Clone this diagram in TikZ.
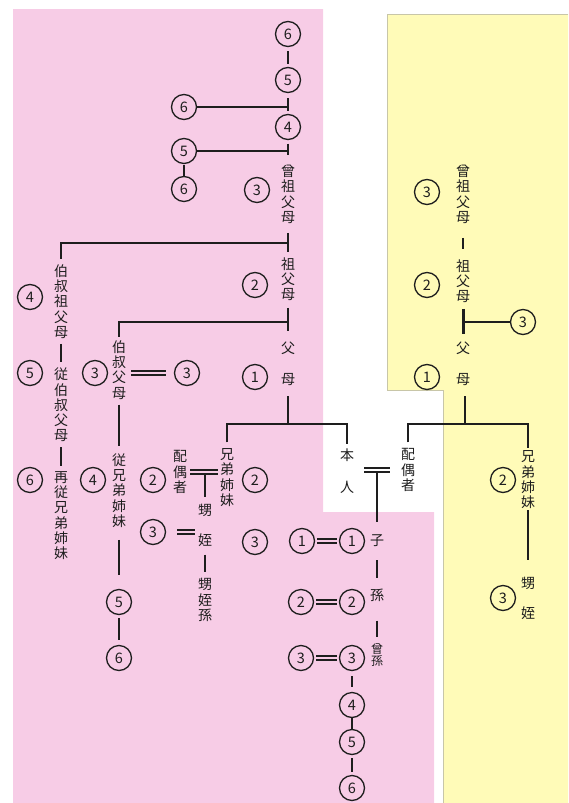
\documentclass[tikz,border=0pt]{standalone}
\usepackage{fontspec}
\setmainfont{Noto Sans CJK JP}
\definecolor{pinkbg}{HTML}{F7CCE6}
\definecolor{yellowbg}{HTML}{FFFBB8}
\definecolor{ybord}{HTML}{C8C6A8}
\definecolor{ink}{HTML}{1E1E1E}
\tikzset{
  num/.style={circle, draw=ink, line width=1.3pt, minimum size=25pt, inner sep=0pt, text=ink, font=\fontsize{14.5}{14.5}\selectfont},
  vt/.style={align=center, inner sep=0pt, text=ink, font=\fontsize{14}{15.3}\selectfont},
  vts/.style={align=center, inner sep=0pt, text=ink, font=\fontsize{12}{12.5}\selectfont},
  ln/.style={draw=ink, line width=2.3pt},
  lnt/.style={draw=ink, line width=3pt},
  dbl/.style={draw=ink, double=pinkbg, line width=1.8pt, double distance=2.2pt},
  dblw/.style={draw=ink, double=white, line width=1.8pt, double distance=2.2pt}
}
\begin{document}
\begin{tikzpicture}[x=1pt,y=-1pt]
\useasboundingbox (0,0) rectangle (568,803);
% backgrounds
\fill[pinkbg] (13,9) -- (323,9) -- (323,512) -- (434,512) -- (434,803) -- (13,803) -- cycle;
\fill[yellowbg] (387,14) -- (568,14) -- (568,803) -- (443,803) -- (443,390) -- (387,390) -- cycle;
\draw[ybord, line width=0.9pt] (568,14) -- (387,14) -- (387,390) -- (443,390) -- (443,803);

% ---- paternal side (pink)
\node[num] (u6) at (288,34) {6};
\node[num] (u5) at (288,80) {5};
\node[num] (u4) at (288,127) {4};
\node[num] (s6a) at (184,107) {6};
\node[num] (s5) at (184,151) {5};
\node[num] (s6b) at (184,189) {6};
\node[num] (g3) at (257,190) {3};
\node[vt] (sosofu) at (288,194.5) {曾\\祖\\父\\母};
\node[vt] (sofu) at (288,279) {祖\\父\\母};
\node[num] (g2) at (255,285) {2};
\node[vt] (bsofu) at (61,301.5) {伯\\叔\\祖\\父\\母};
\node[num] (b4) at (30,297) {4};
\node[vt] (bfu) at (119,370) {伯\\叔\\父\\母};
\node[num] (b3) at (95,373) {3};
\node[num] (b3s) at (187,373) {3};
\node[vt] (fu) at (288,348) {父};
\node[vt] (mo) at (288,380) {母};
\node[num] (g1) at (255,377) {1};
\node[num] (b5) at (30,373) {5};
\node[vt] (jbfu) at (61,405) {従\\伯\\叔\\父\\母};
\node[num] (b6) at (30,480) {6};
\node[vt] (sai) at (61,515.5) {再\\従\\兄\\弟\\姉\\妹};
\node[vt] (ju) at (119,490.5) {従\\兄\\弟\\姉\\妹};
\node[num] (c4) at (93,480) {4};
\node[num] (c5) at (119,602) {5};
\node[num] (c6) at (119,658) {6};
\node[vt] (sib) at (227,477.5) {兄\\弟\\姉\\妹};
\node[num] (g2b) at (255,480) {2};
\node[vt] (spsib) at (180,472) {配\\偶\\者};
\node[num] (n2) at (153,480) {2};
\node[vt] (oi1) at (205,510) {甥};
\node[vt] (mei1) at (205,540) {姪};
\node[num] (n3) at (153,532) {3};
\node[num] (g3b) at (255,542) {3};
\node[vt] (oimei) at (205,600) {甥\\姪\\孫};

% ---- self
\node[vt] (hon) at (347,455) {本};
\node[vt] (nin) at (347,487) {人};
\node[vt] (sp) at (408,470) {配\\偶\\者};

% ---- descendants
\node[num] (d1l) at (302,541) {1};
\node[num] (d1r) at (352,541) {1};
\node[vt] (ko) at (377,541) {子};
\node[vt] (mago) at (377,595) {孫};
\node[num] (d2l) at (301,602) {2};
\node[num] (d2r) at (352,602) {2};
\node[vts] (himago) at (377,655) {曾\\孫};
\node[num] (d3l) at (301,658) {3};
\node[num] (d3r) at (352,658) {3};
\node[num] (d4) at (352,705) {4};
\node[num] (d5) at (352,742) {5};
\node[num] (d6) at (352,788) {6};

% ---- maternal side (yellow)
\node[vt] (msosofu) at (463,194.5) {曾\\祖\\父\\母};
\node[num] (m3) at (427,192) {3};
\node[vt] (msofu) at (463,281) {祖\\父\\母};
\node[num] (m2) at (427,285) {2};
\node[num] (m3b) at (523,322) {3};
\node[vt] (mfu) at (463,348) {父};
\node[vt] (mmo) at (463,380) {母};
\node[num] (m1) at (427,377) {1};
\node[vt] (msib) at (528,480) {兄\\弟\\姉\\妹};
\node[num] (m2b) at (503,480) {2};
\node[vt] (moi) at (528,583) {甥};
\node[vt] (mmei) at (528,613) {姪};
\node[num] (m3c) at (503,598) {3};

% ---- junction coordinates
\coordinate (k1) at (288,155);
\coordinate (k2) at (288,252);
\coordinate (j2) at (288,243);
\coordinate (k5) at (288,331);
\coordinate (j3) at (288,322);
\coordinate (j4) at (288,424);
\coordinate (j5) at (465,424);
\coordinate (t1) at (205,473);
\coordinate (t2) at (377,473);

% ---- connectors, paternal
\draw[ln, shorten <=4pt, shorten >=3pt] (u6) -- (u5);
\draw[ln, shorten <=5pt, shorten >=3pt] (u5) -- (u4);
\draw[ln] (s6a) -- (s6a -| u5);
\draw[ln, shorten <=3.5pt] (u4) -- (k1);
\draw[ln] (s5) -- (s5 -| k1);
\draw[ln, shorten <=1pt] (s5) -- (s6b);
\draw[ln, shorten <=9pt] (sosofu.south) -- (k2);
\draw[ln] (j2) -| ([yshift=5pt]bsofu.north);
\draw[ln, shorten <=7pt] (sofu.south) -- (k5);
\draw[ln] (j3) -| ([yshift=3pt]bfu.north);
\draw[ln, shorten <=5pt, shorten >=6pt] (bsofu.south) -- (jbfu.north);
\draw[ln, shorten <=5pt, shorten >=5pt] (jbfu.south) -- (sai.north);
\draw[dbl, shorten <=5pt, shorten >=8pt] (bfu.east |- b3s) -- (b3s.west);
\draw[ln, shorten <=5pt, shorten >=7pt] (bfu.south) -- (ju.north);
\draw[ln, shorten <=12pt, shorten >=14pt] (ju.south) -- (c5);
\draw[ln, shorten <=3pt, shorten >=5pt] (c5) -- (c6);
\draw[ln, shorten <=10pt] (mo.south) -- (j4);
\draw[ln] ([yshift=6pt]sib.north) -- (sib.north |- j4) -- (hon.north |- j4) -- ([yshift=4pt]hon.north);
\draw[dbl, shorten <=3pt, shorten >=2pt] (spsib.east) -- (sib.west |- spsib.east);
\draw[ln] (t1) -- ([yshift=7pt]oi1.north);
\draw[dbl, shorten <=11pt, shorten >=3pt] (n3) -- (n3 -| mei1.west);
\draw[ln, shorten <=8pt, shorten >=6pt] (mei1.south) -- (oimei.north);

% ---- self and descendants
\draw[dblw, shorten <=10pt, shorten >=11pt] (hon.east |- sp.west) -- (sp.west);
\draw[ln] (t2) -- ([yshift=13pt]ko.north);
\draw[ln] ([yshift=6pt]sp.north) -- (sp.north |- j5) -- (msib.north |- j5) -- ([yshift=3pt]msib.north);
\draw[ln, shorten <=10pt] (mmo.south -| j5) -- (j5);
\draw[dbl, shorten <=2pt, shorten >=2pt] (d1l) -- (d1r);
\draw[dbl, shorten <=2pt, shorten >=2pt] (d2l) -- (d2r);
\draw[dbl, shorten <=2pt, shorten >=2pt] (d3l) -- (d3r);
\draw[ln, shorten <=13pt, shorten >=10pt] (ko.south) -- (mago.north);
\draw[ln, shorten <=19pt, shorten >=6pt] (mago.south) -- (himago.north);
\draw[ln, shorten <=5pt, shorten >=5pt] (d3r) -- (d4);
\draw[ln] (d4) -- (d5);
\draw[ln, shorten <=3pt, shorten >=3pt] (d5) -- (d6);

% ---- maternal connectors
\draw[ln, shorten <=14pt, shorten >=10pt] (msosofu.south) -- (msofu.north);
\draw[lnt, shorten <=6pt, shorten >=7pt] (msofu.south) -- (mfu.north);
\draw[ln] (m3b) -- (m3b -| mfu);
\draw[ln, shorten <=1pt, shorten >=17pt] (msib.south) -- (moi.north);
\end{tikzpicture}
\end{document}
